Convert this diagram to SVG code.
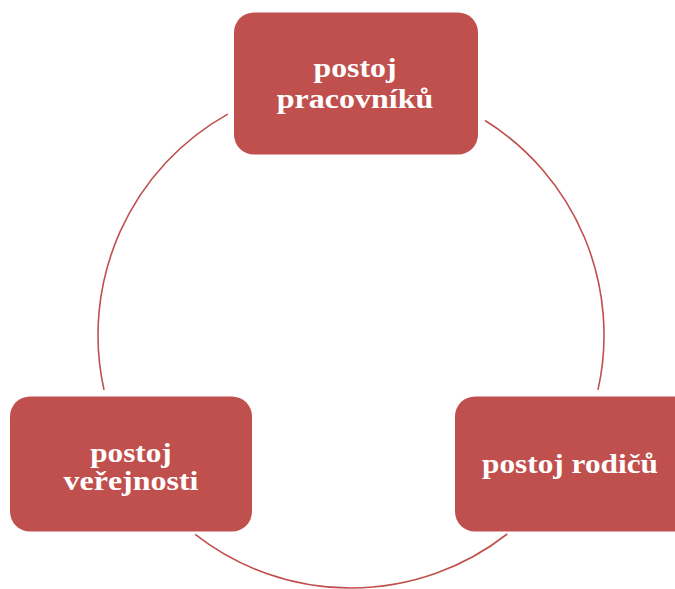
<svg xmlns="http://www.w3.org/2000/svg" width="675" height="589" viewBox="0 0 675 589">
<style>
.box{fill:#C0504D;}
.lbl{font-family:"Liberation Serif","Times New Roman",serif;font-weight:bold;font-size:28px;fill:#FFFFFF;text-anchor:middle;}
.arc{fill:none;stroke:#C0504D;stroke-width:1.6;}
</style>
<rect width="675" height="589" fill="#FFFFFF"/>
<g id="connectors">
<path class="arc" d="M227.8,114.1 A253,253 0 0 0 104,389.8"/>
<path class="arc" d="M195.2,534.4 A253,253 0 0 0 507.2,534"/>
<path class="arc" d="M598,389.9 A253,253 0 0 0 485.1,120.5"/>
</g>
<g id="node-pracovniku">
<rect class="box" x="234" y="12.5" width="244" height="142" rx="20" ry="20"/>
<text class="lbl" x="355" y="77" textLength="83" lengthAdjust="spacingAndGlyphs">postoj</text>
<text class="lbl" x="355" y="107.5" textLength="156.5" lengthAdjust="spacingAndGlyphs">pracovníků</text>
</g>
<g id="node-verejnosti">
<rect class="box" x="10" y="396.5" width="242" height="135" rx="20" ry="20"/>
<text class="lbl" x="131" y="461.7" textLength="81.5" lengthAdjust="spacingAndGlyphs">postoj</text>
<text class="lbl" x="131" y="490" textLength="135" lengthAdjust="spacingAndGlyphs">veřejnosti</text>
</g>
<g id="node-rodicu">
<rect class="box" x="455" y="396.5" width="244" height="135" rx="20" ry="20"/>
<text class="lbl" x="570" y="473.3" textLength="176" lengthAdjust="spacingAndGlyphs">postoj rodičů</text>
</g>
</svg>
